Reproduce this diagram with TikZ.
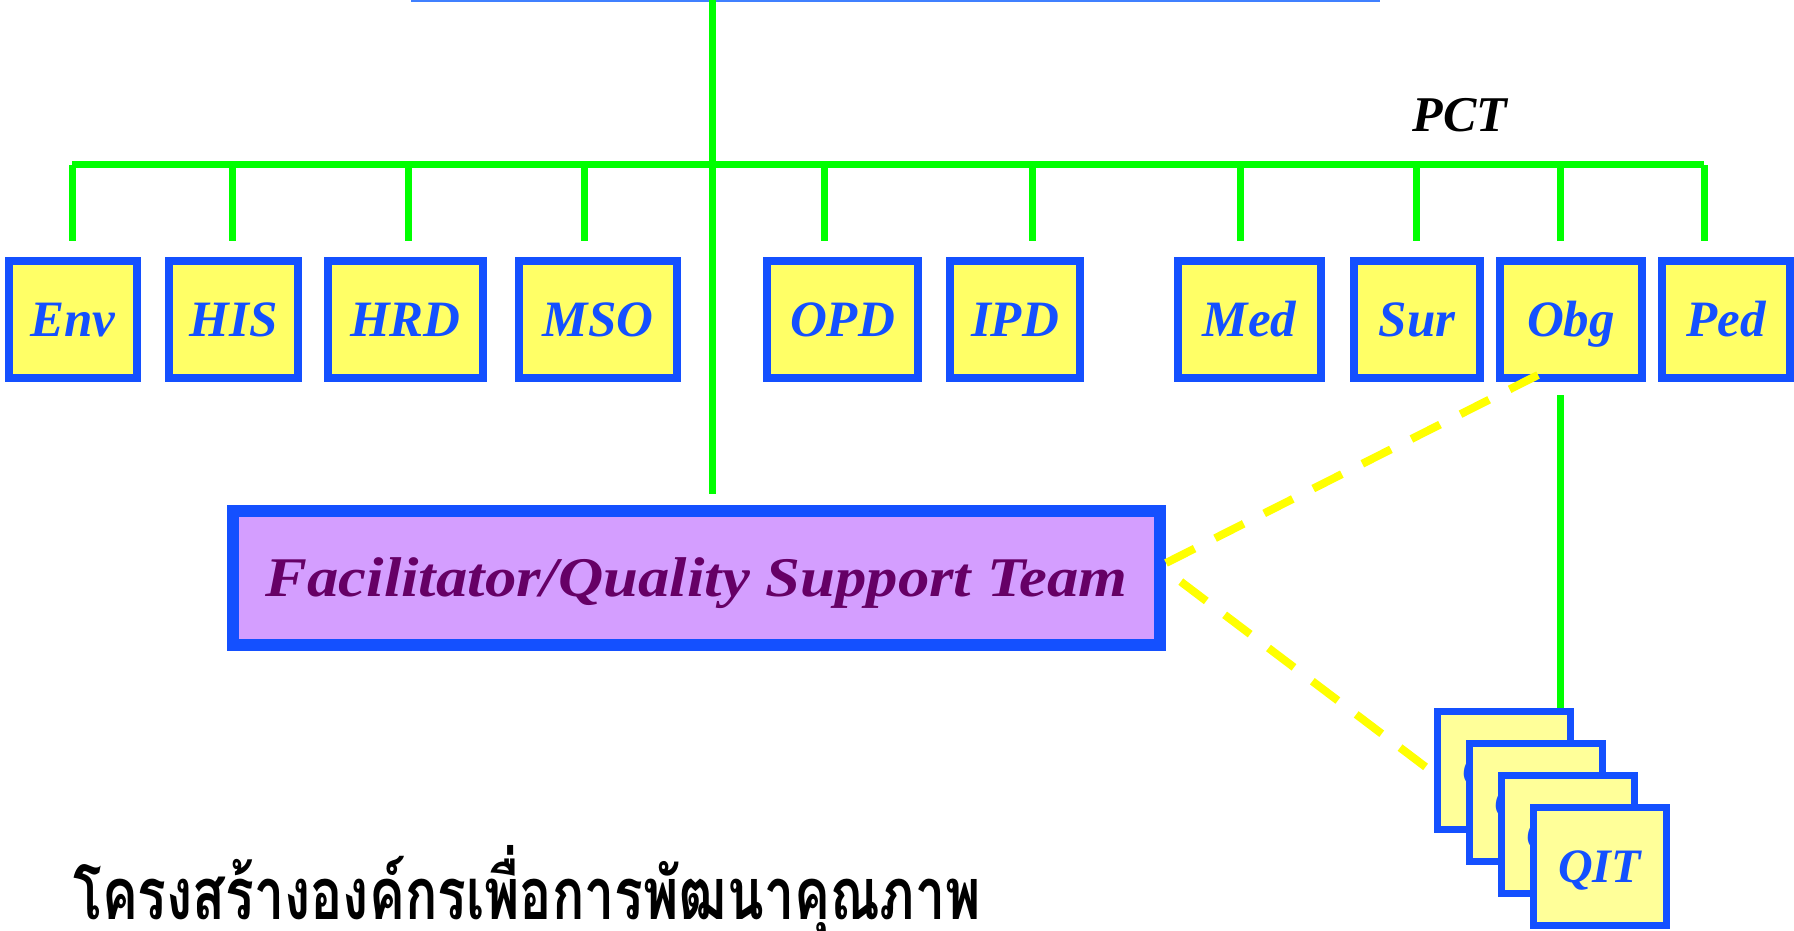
\documentclass[tikz,border=0pt]{standalone}
\usepackage{fontspec}
\setmainfont{Liberation Serif}
\newfontfamily\teamfont{Liberation Serif}[FakeStretch=1.12]
\newfontfamily\thaifont[Script=Thai,FakeStretch=0.745]{Loma}
\definecolor{unitblue}{RGB}{20,80,255}
\definecolor{unitfill}{RGB}{255,255,102}
\definecolor{qitfill}{RGB}{255,255,153}
\definecolor{teamfill}{RGB}{212,158,255}
\definecolor{teamtext}{RGB}{102,0,102}
\definecolor{tiegreen}{RGB}{0,255,0}
\definecolor{linkyellow}{RGB}{255,255,0}
\definecolor{topblue}{RGB}{64,128,255}

\begin{document}
\begin{tikzpicture}[x=1pt,y=-1pt]
  \tikzstyle{unit}=[draw=unitblue,fill=unitfill,line width=8pt,minimum height=117pt,inner sep=0pt,text=unitblue,text height=34pt,text depth=0pt,font=\bfseries\itshape\fontsize{51}{51}\selectfont]
  \tikzstyle{qit}=[unit,fill=qitfill,line width=7pt,minimum width=133pt,minimum height=118pt,text height=32pt,font=\bfseries\itshape\fontsize{48}{48}\selectfont]
  \tikzstyle{tie}=[tiegreen,line width=7pt]
  \tikzstyle{link}=[linkyellow,line width=8pt,dash pattern=on 32pt off 23pt]
  \useasboundingbox (0,0) rectangle (1794,931);
  % top of the chart
  \draw[topblue,line width=2pt] (411,1) -- (1380,1);
  \coordinate (head) at (712,0);
  \node[inner sep=0pt,text height=33pt,text depth=0pt,font=\bfseries\itshape\fontsize{50}{50}\selectfont] (pct) at (1460,115) {PCT};
  % units
  \node[unit,minimum width=128pt] (env) at (73,319.5)   {Env};
  \node[unit,minimum width=129pt] (his) at (233.5,319.5) {HIS};
  \node[unit,minimum width=155pt] (hrd) at (405.5,319.5) {HRD};
  \node[unit,minimum width=158pt] (mso) at (598,319.5)  {MSO};
  \node[unit,minimum width=151pt] (opd) at (842.5,319.5) {OPD};
  \node[unit,minimum width=130pt] (ipd) at (1015,319.5) {IPD};
  \node[unit,minimum width=143pt] (med) at (1249.5,319.5) {Med};
  \node[unit,minimum width=126pt] (sur) at (1417,319.5) {Sur};
  \node[unit,minimum width=142pt] (obg) at (1571,319.5) {Obg};
  \node[unit,minimum width=128pt] (ped) at (1726,319.5) {Ped};
  \node[draw=unitblue,fill=teamfill,line width=12pt,minimum width=927pt,minimum height=134pt,inner sep=0pt,text=teamtext,text height=37pt,text depth=0pt,font=\teamfont\bfseries\itshape\fontsize{56}{56}\selectfont] (team) at (696.5,578) {Facilitator/Quality Support Team};
  % bus and drops
  \coordinate (busL) at (72,165);
  \coordinate (busR) at (1704,165);
  \draw[tie] (busL) -- (busR);
  \foreach \n/\x in {env/72,his/232,hrd/408,mso/584,opd/824,ipd/1032,med/1240,sur/1416,obg/1560,ped/1704}
    \draw[tie,shorten >=16pt] (\x,165) -- (\x,165 |- \n.north);
  \draw[tie,shorten >=11pt] (head) -- (head |- team.north);
  \draw[tie,shorten <=13pt,shorten >=3.5pt] (1560,300 |- obg.south) -- (1560,700 |- {(1503.5,770.5)}) coordinate (qitTop);
  % QIT stack
  \foreach \i in {0,...,3}
    \node[qit] (qit\i) at (1503.5+32*\i,770.5+32*\i) {QIT};
  % links
  \coordinate (obgfoot) at (1538,375);
  \coordinate (qitfoot) at (1427,768);
  \draw[link] ([yshift=15pt]team.east) -- (obgfoot);
  \draw[link,dash phase=44pt] ([xshift=6pt,yshift=3pt]team.east) -- (qitfoot);
  % title
  \node[anchor=base west,inner sep=0pt,font=\thaifont\bfseries\fontsize{72}{72}\selectfont] (title) at (73,919) {โครงสร้างองค์กรเพื่อการพัฒนาคุณภาพ};
\end{tikzpicture}
\end{document}
